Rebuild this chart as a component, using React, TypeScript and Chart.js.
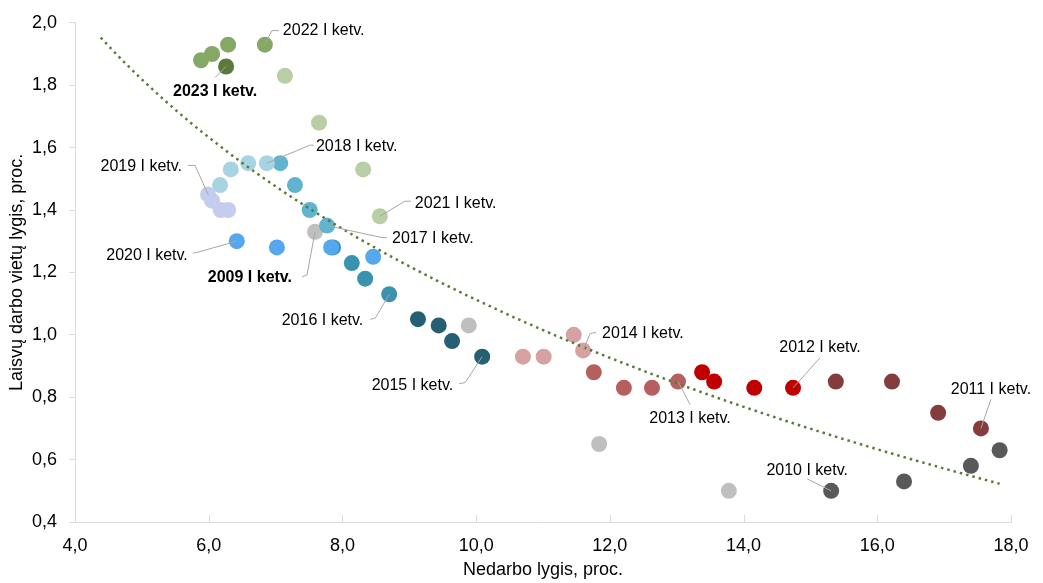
import { useEffect, useRef } from "react";
import { Chart, registerables } from "chart.js";

Chart.register(...registerables);

// ---- data ----
const years = [2009, 2010, 2011, 2012, 2013, 2014, 2015, 2016, 2017, 2018, 2019, 2020, 2021, 2022, 2023];

// Unemployment rate (x), quarters I..IV of each year
const unemploymentRate: number[][] = [
  [7.59, 9.89, 11.84, 13.78],
  [15.31, 16.40, 17.40, 17.83],
  [17.55, 16.91, 16.22, 15.38],
  [14.74, 14.16, 13.56, 13.38],
  [13.02, 12.63, 12.21, 11.76],
  [11.60, 11.46, 11.01, 10.70],
  [10.09, 9.64, 9.44, 9.13],
  [8.70, 8.34, 8.14, 7.86],
  [7.77, 7.51, 7.29, 7.07],
  [6.87, 6.59, 6.33, 6.17],
  [5.99, 6.05, 6.18, 6.29],
  [6.42, 8.46, 7.83, 7.02],
  [8.56, 8.31, 7.65, 7.14],
  [6.84, 6.29, 6.05, 5.885],
  [6.26],
];

// Job vacancy rate (y), quarters I..IV of each year
const vacancyRate: number[][] = [
  [1.33, 1.03, 0.65, 0.5],
  [0.5, 0.53, 0.58, 0.63],
  [0.7, 0.75, 0.85, 0.85],
  [0.83, 0.83, 0.85, 0.88],
  [0.85, 0.83, 0.83, 0.88],
  [0.95, 1.0, 0.93, 0.93],
  [0.93, 0.98, 1.03, 1.05],
  [1.13, 1.18, 1.23, 1.28],
  [1.35, 1.4, 1.48, 1.55],
  [1.55, 1.55, 1.53, 1.48],
  [1.45, 1.43, 1.4, 1.4],
  [1.3, 1.25, 1.28, 1.28],
  [1.38, 1.53, 1.68, 1.83],
  [1.93, 1.93, 1.9, 1.88],
  [1.86],
];

const yearColors = [
  "#bfbfbf", "#595959", "#853c3c", "#c00000", "#b5605f", "#d8a1a1", "#245f73", "#3a93ae",
  "#60b4cf", "#a6d4e3", "#c4cdee", "#56a8ee", "#b8cfa5", "#86a866", "#5b7b3b",
];

const xTicks = [4, 6, 8, 10, 12, 14, 16, 18];
const yTicks = [0.4, 0.6, 0.8, 1.0, 1.2, 1.4, 1.6, 1.8, 2.0];
const boldYears = [2009, 2023];
const trendBackward = 1.5;

const xTitle = "Nedarbo lygis, proc.";
const yTitle = "Laisvų darbo vietų lygis, proc.";
const quarterLabel = " I ketv.";

// ---- styles ----
const FONT = "'Liberation Sans', Arial, sans-serif";
const AXIS_COLOR = "#e0d9d9";
const LEADER_COLOR = "#a6a6a6";
const TREND_COLOR = "#5b7b3b";

type Callout = { year: number; path: [number, number][]; dx: number; dy: number; align: CanvasTextAlign };
const callouts: Callout[] = [
  { year: 2022, path: [[0, 0], [7, -14], [14, -14]], dx: 18, dy: -14, align: "left" },
  { year: 2023, path: [[0, 0], [-11, 11]], dx: -11, dy: 25, align: "center" },
  { year: 2018, path: [[0, 0], [43, -18], [47, -18]], dx: 49, dy: -17, align: "left" },
  { year: 2019, path: [[0, 0], [-13, -29], [-20, -29]], dx: -26, dy: -28, align: "right" },
  { year: 2021, path: [[0, 0], [25, -15], [31, -15]], dx: 35, dy: -13, align: "left" },
  { year: 2017, path: [[0, 0], [55, 12], [60, 12]], dx: 65, dy: 13, align: "left" },
  { year: 2020, path: [[0, 0], [-39, 11], [-44, 12]], dx: -49, dy: 14, align: "right" },
  { year: 2009, path: [[0, 0], [-8, 43], [-13, 45]], dx: -23, dy: 46, align: "right" },
  { year: 2016, path: [[0, 0], [-14, 24], [-19, 25]], dx: -26, dy: 26, align: "right" },
  { year: 2015, path: [[0, 0], [-17, 26], [-23, 27]], dx: -29, dy: 29, align: "right" },
  { year: 2014, path: [[0, 0], [7, -17], [13, -18]], dx: 19, dy: -17, align: "left" },
  { year: 2013, path: [[0, 0], [12, 23]], dx: 12, dy: 37, align: "center" },
  { year: 2012, path: [[0, 0], [27, -30]], dx: 27, dy: -40, align: "center" },
  { year: 2011, path: [[0, 0], [10, -29]], dx: 10, dy: -39, align: "center" },
  { year: 2010, path: [[0, 0], [-24, -12]], dx: -24, dy: -20, align: "center" },
];

const fmt = (v: number) => v.toFixed(1).replace(".", ",");

// Logarithmic least-squares trend (y = a + b·ln x) fitted to all observed points
function logarithmicTrend() {
  const xs: number[] = [];
  const ys: number[] = [];
  unemploymentRate.forEach((row, i) => row.forEach((x, j) => { xs.push(Math.log(x)); ys.push(vacancyRate[i][j]); }));
  const n = xs.length;
  const mx = xs.reduce((a, b) => a + b, 0) / n;
  const my = ys.reduce((a, b) => a + b, 0) / n;
  let sxy = 0, sxx = 0;
  for (let k = 0; k < n; k++) { sxy += (xs[k] - mx) * (ys[k] - my); sxx += (xs[k] - mx) ** 2; }
  const b = sxy / sxx;
  const a = my - b * mx;
  const rawX = unemploymentRate.flat();
  const x0 = Math.min(...rawX) - trendBackward;
  const x1 = Math.max(...rawX);
  const pts: { x: number; y: number }[] = [];
  const steps = 80;
  for (let s = 0; s <= steps; s++) {
    const x = x0 + ((x1 - x0) * s) / steps;
    pts.push({ x, y: a + b * Math.log(x) });
  }
  return pts;
}

const calloutPlugin = {
  id: "callouts",
  afterDatasetsDraw(chart: any) {
    const ctx: CanvasRenderingContext2D = chart.ctx;
    const xs = chart.scales.x;
    const ys = chart.scales.y;
    ctx.save();
    // inside tick marks of the x axis
    ctx.strokeStyle = AXIS_COLOR;
    ctx.lineWidth = 1;
    for (const t of xTicks) {
      const px = Math.round(xs.getPixelForValue(t)) + 0.5;
      ctx.beginPath();
      ctx.moveTo(px, ys.bottom);
      ctx.lineTo(px, ys.bottom - 7);
      ctx.stroke();
    }
    // callouts
    for (const c of callouts) {
      const i = years.indexOf(c.year);
      const px = xs.getPixelForValue(unemploymentRate[i][0]);
      const py = ys.getPixelForValue(vacancyRate[i][0]);
      ctx.strokeStyle = LEADER_COLOR;
      ctx.lineWidth = 1;
      ctx.beginPath();
      c.path.forEach(([dx, dy], k) => (k === 0 ? ctx.moveTo(px + dx, py + dy) : ctx.lineTo(px + dx, py + dy)));
      ctx.stroke();
      const bold = boldYears.includes(c.year);
      ctx.font = `${bold ? "bold " : ""}16px ${FONT}`;
      ctx.fillStyle = "#000";
      ctx.textAlign = c.align;
      ctx.textBaseline = "middle";
      ctx.fillText(`${c.year}${quarterLabel}`, px + c.dx, py + c.dy);
    }
    ctx.restore();
  },
};

export default function App() {
  const ref = useRef<HTMLCanvasElement | null>(null);
  useEffect(() => {
    document.body.style.margin = "0";
    if (!ref.current) return;
    const datasets: any[] = years.map((y, i) => ({
      label: String(y),
      data: unemploymentRate[i].map((x, j) => ({ x, y: vacancyRate[i][j] })),
      backgroundColor: yearColors[i],
      borderColor: yearColors[i],
      pointRadius: 8,
      pointHoverRadius: 8,
      pointBorderWidth: 0,
      showLine: false,
      order: 100 - i,
    }));
    datasets.push({
      label: "trend",
      data: logarithmicTrend(),
      showLine: true,
      borderColor: TREND_COLOR,
      borderWidth: 2.5,
      borderDash: [2.5, 4],
      pointRadius: 0,
      fill: false,
      tension: 0,
      order: 0,
    });
    const chart = new Chart(ref.current, {
      type: "scatter",
      data: { datasets },
      plugins: [calloutPlugin],
      options: {
        animation: false,
        responsive: false,
        layout: { padding: { top: 19, right: 32, left: 0, bottom: 0 } },
        plugins: { legend: { display: false }, tooltip: { enabled: false } },
        scales: {
          x: {
            type: "linear",
            min: 4,
            max: 18,
            afterBuildTicks: (s: any) => { s.ticks = xTicks.map((v) => ({ value: v })); },
            afterFit: (s: any) => { s.height = 61; },
            grid: { drawOnChartArea: false, drawTicks: false, color: AXIS_COLOR },
            border: { display: true, color: AXIS_COLOR, width: 1 },
            ticks: { padding: 13, color: "#000", font: { family: FONT, size: 18 }, callback: (v: any) => fmt(Number(v)), maxRotation: 0 },
            title: { display: true, text: xTitle, color: "#000", font: { family: FONT, size: 18 }, padding: { top: 0, bottom: 2 } },
          },
          y: {
            type: "linear",
            min: 0.4,
            max: 2.0,
            afterBuildTicks: (s: any) => { s.ticks = yTicks.map((v) => ({ value: v })); },
            afterFit: (s: any) => { s.width = 75; },
            grid: { drawOnChartArea: false, drawTicks: true, tickLength: 6, color: AXIS_COLOR },
            border: { display: true, color: AXIS_COLOR, width: 1 },
            ticks: { padding: 12, color: "#000", font: { family: FONT, size: 18 }, callback: (v: any) => fmt(Number(v)) },
            title: { display: true, text: yTitle, color: "#000", font: { family: FONT, size: 18 }, padding: { top: 6, bottom: 0 } },
          },
        },
      },
    });
    return () => chart.destroy();
  }, []);
  return (
    <div style={{ width: 1043, height: 583, background: "#fff" }}>
      <canvas ref={ref} width={1043} height={583} style={{ display: "block" }} />
    </div>
  );
}
